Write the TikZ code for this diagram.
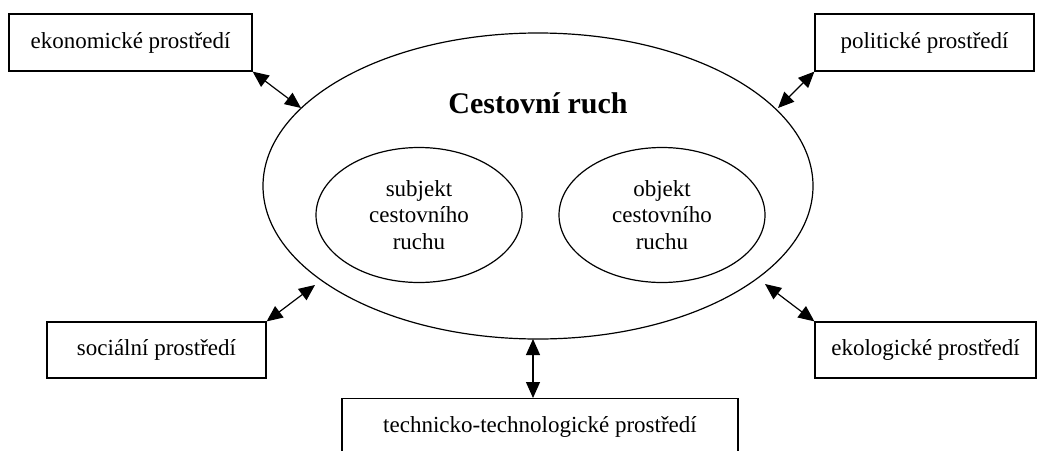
\documentclass[tikz,border=0pt]{standalone}
\usepackage{fontspec}
\setmainfont{Liberation Serif}
\usetikzlibrary{arrows.meta,shapes.geometric}
\begin{document}
\begin{tikzpicture}[x=1pt,y=-1pt,
  box/.style={draw,line width=1.2pt,rectangle,inner sep=0pt,font=\fontsize{23}{26}\selectfont},
  ell/.style={draw,line width=1.2pt,ellipse,inner sep=0pt},
  inner/.style={ell,minimum width=206pt,minimum height=135pt,align=center,font=\fontsize{23}{26.5}\selectfont},
  conn/.style={{Triangle[length=16pt,width=14pt]}-{Triangle[length=16pt,width=14pt]},line width=1.2pt}]
\useasboundingbox (0,0) rectangle (1048,450);
% central ellipse
\node[ell,minimum width=550pt,minimum height=306pt] (big) at (538,186) {};
\node[font=\fontsize{30}{34}\selectfont\bfseries] (title) at (538,103) {Cestovní ruch};
\node[inner] (subj) at (419,215) {subjekt\\cestovního\\ruchu};
\node[inner] (obj) at (662,215) {objekt\\cestovního\\ruchu};
% surrounding boxes
\node[box,minimum width=243pt,minimum height=57pt] (eko) at (130.5,42.5) {ekonomické prostředí};
\node[box,minimum width=219pt,minimum height=57pt] (pol) at (924.5,42.5) {politické prostředí};
\node[box,minimum width=219pt,minimum height=56pt] (soc) at (156.5,350) {sociální prostředí};
\node[box,minimum width=221pt,minimum height=56pt] (ekol) at (925.5,350) {ekologické prostředí};
\node[box,minimum width=396pt,minimum height=57pt,anchor=north] (tech) at (540,398) {technicko-technologické prostředí};
% connector ends on the ellipse
\coordinate (c1) at (301,108);
\coordinate (c2) at (778,108);
\coordinate (c3) at (315,285);
\coordinate (c4) at (765,284);
\coordinate (c5) at (533,339);
\draw[conn] (eko.south east) -- (c1);
\draw[conn] (pol.south west) -- (c2);
\draw[conn] (soc.north east) -- (c3);
\draw[conn] (ekol.north west) -- (c4);
\draw[conn] (tech.north -| c5) -- (c5);
\end{tikzpicture}
\end{document}
